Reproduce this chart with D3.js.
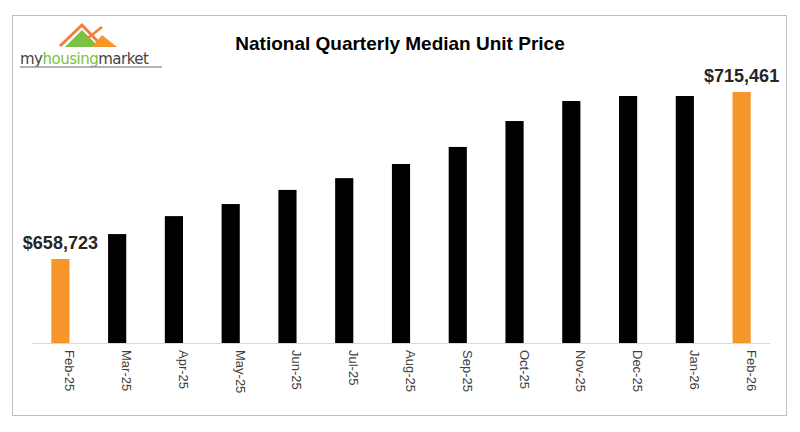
<!DOCTYPE html>
<html><head><meta charset="utf-8">
<script src="https://cdn.jsdelivr.net/npm/d3@7"></script>
<style>body{margin:0;background:#fff}</style>
</head><body><svg id="chart" width="800" height="432"></svg>
<script>
const months = ['Feb-25','Mar-25','Apr-25','May-25','Jun-25','Jul-25','Aug-25','Sep-25','Oct-25','Nov-25','Dec-25','Jan-26','Feb-26'];
const prices = [658723,667200,673300,677400,682200,686200,691000,696800,705600,712400,714100,714100,715461];
const labelled = ['Feb-25','Feb-26'];

const svg = d3.select('#chart');
svg.append('rect').attr('x',12.5).attr('y',15.5).attr('width',774).attr('height',400)
  .attr('fill','#fff').attr('stroke','#bfbfbf');

const x = d3.scaleBand().domain(months).range([32, 770]).paddingInner(0.68).paddingOuter(0.34);
const y = d3.scaleLinear().domain([630200, 715461]).range([343, 92]);

svg.append('line').attr('x1',32).attr('x2',770).attr('y1',343.5).attr('y2',343.5).attr('stroke','#d9d9d9');

svg.selectAll('rect.bar').data(months).join('rect').attr('class','bar')
  .attr('x', d => x(d)).attr('width', x.bandwidth())
  .attr('y', (d,i) => y(prices[i])).attr('height', (d,i) => 343 - y(prices[i]))
  .attr('fill', d => labelled.includes(d) ? '#f7962a' : '#000');

svg.selectAll('text.lab').data(months.filter(m => labelled.includes(m))).join('text').attr('class','lab')
  .attr('x', d => x(d) + x.bandwidth()/2).attr('y', d => y(prices[months.indexOf(d)]) - 10)
  .attr('text-anchor','middle').attr('font-family','Liberation Sans, Arial').attr('font-weight','bold')
  .attr('font-size',18).attr('fill','#262626')
  .text(d => '$' + d3.format(',')(prices[months.indexOf(d)]));

svg.selectAll('text.tick').data(months).join('text').attr('class','tick')
  .attr('transform', d => `translate(${x(d) + x.bandwidth()/2 + 5},350) rotate(90)`)
  .attr('font-family','Liberation Sans, Arial').attr('font-size',13).attr('fill','#404040')
  .text(d => d);

svg.append('text').attr('x',400).attr('y',50).attr('text-anchor','middle')
  .attr('font-family','Liberation Sans, Arial').attr('font-weight','bold').attr('font-size',19)
  .attr('fill','#000').text('National Quarterly Median Unit Price');

// logo
const logo = svg.append('g');
logo.append('path').attr('d','M60,46 L82,25 L102,46').attr('fill','none').attr('stroke','#f47c3c').attr('stroke-width',3);
logo.append('path').attr('d','M65,47 L82,30 L96,44 L96,47 Z').attr('fill','#7cc142');
logo.append('path').attr('d','M92,47 L102,35 L117,47 Z').attr('fill','#f7962a');
logo.append('path').attr('d','M88,38 L102,27').attr('stroke','#f47c3c').attr('stroke-width',2.5);
logo.append('text').attr('x',20).attr('y',64).attr('font-family','DejaVu Sans, sans-serif').attr('font-size',15)
  .attr('fill','#444').attr('letter-spacing',-0.5)
  .html('my<tspan fill="#7cc142">housing</tspan>market');
logo.append('line').attr('x1',20).attr('x2',162).attr('y1',67).attr('y2',67).attr('stroke','#999').attr('stroke-width',1.5);
</script></body></html>
